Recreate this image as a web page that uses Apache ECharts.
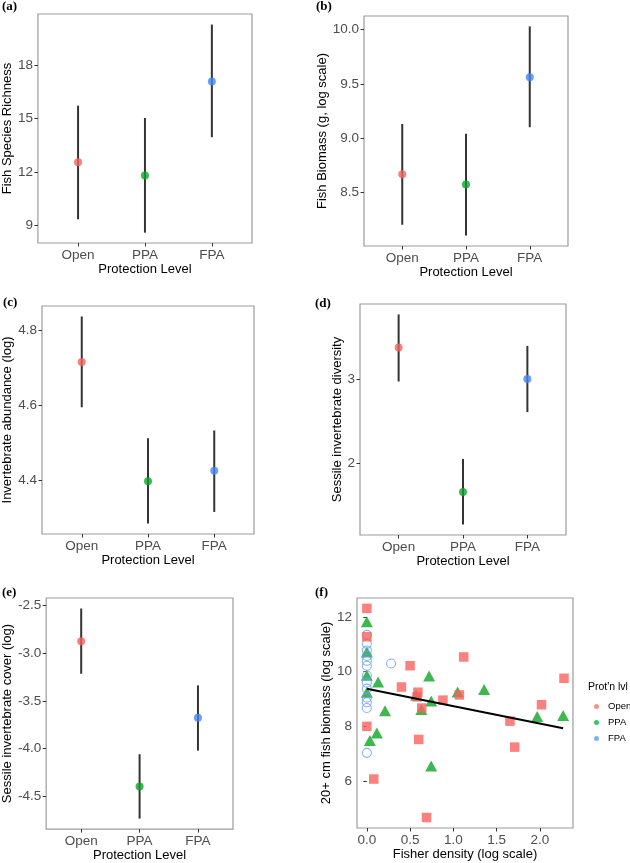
<!DOCTYPE html>
<html>
<head>
<meta charset="utf-8">
<script src="https://cdn.jsdelivr.net/npm/echarts@6/dist/echarts.min.js"></script>
<style>
html,body{margin:0;padding:0;background:#fff;}
#chart{width:630px;height:863px;}
</style>
</head>
<body>
<div id="chart"></div>
<script>
// ---------- data ----------
const categories = ['Open', 'PPA', 'FPA'];

const richnessMean = [12.55, 11.80, 17.08];
const richnessLo   = [9.35, 8.60, 13.95];
const richnessHi   = [15.72, 15.03, 20.27];

const biomassMean = [8.665, 8.572, 9.560];
const biomassLo   = [8.200, 8.100, 9.100];
const biomassHi   = [9.130, 9.040, 10.030];

const abundanceMean = [4.716, 4.397, 4.425];
const abundanceLo   = [4.595, 4.284, 4.315];
const abundanceHi   = [4.838, 4.512, 4.533];

const diversityMean = [3.373, 1.658, 3.000];
const diversityLo   = [2.970, 1.273, 2.607];
const diversityHi   = [3.766, 2.050, 3.393];

const coverMean = [-2.875, -4.396, -3.677];
const coverLo   = [-3.215, -4.732, -4.020];
const coverHi   = [-2.532, -4.058, -3.337];

const richnessTicks  = [9, 12, 15, 18];
const biomassTicks   = [8.5, 9.0, 9.5, 10.0];
const abundanceTicks = [4.4, 4.6, 4.8];
const diversityTicks = [2, 3];
const coverTicks     = [-4.5, -4.0, -3.5, -3.0, -2.5];

// panel f scatter: fisher density (x) vs 20+ cm fish biomass (y)
const openX = [0, 0, 0, 0.08, 0.50, 0.40, 0.59, 0.58, 0.635, 0.60, 0.69, 0.88, 1.12, 1.07, 1.655, 1.71, 2.02, 2.28];
const openY = [12.32, 11.28, 8.00, 6.07, 10.22, 9.44, 9.25, 9.08, 8.67, 7.52, 4.66, 8.96, 10.54, 9.15, 8.19, 7.24, 8.79, 9.76];
const ppaX = [0, 0, 0, 0, 0.13, 0.21, 0.116, 0.035, 0.57, 0.63, 0.72, 0.744, 0.744, 1.05, 1.356, 1.97, 2.27];
const ppaY = [11.83, 10.72, 9.87, 9.25, 9.62, 8.57, 7.76, 7.48, 9.14, 8.62, 9.84, 8.93, 6.55, 9.26, 9.35, 8.36, 8.40];
const fpaX = [0, 0, 0, 0, 0, 0, 0, 0, 0, 0, 0, 0, 0, 0.28];
const fpaY = [11.35, 11.02, 10.78, 10.58, 10.40, 10.22, 9.86, 9.60, 9.38, 9.05, 8.88, 8.67, 7.03, 10.30];
const fitX = [0, 2.27];
const fitY = [9.38, 7.93];
const fisherTicks = [0.0, 0.5, 1.0, 1.5, 2.0];
const bigFishTicks = [6, 8, 10, 12];

// ---------- styling ----------
const FONT = 'Liberation Sans';
const pointColors = ['#F6625C', '#0DA52B', '#4686F4'];
const LABEL_COLOR = '#4D4D4D';
const TICK_FS = 13.5;
const NAME_FS = 13;

const panels = [
  {tag:'(a)', tagPos:[2, 7], grid:{left:36, top:14, width:216, height:229}, mean:richnessMean, lo:richnessLo, hi:richnessHi, min:8.02, max:20.86, ticks:richnessTicks, dec:0, name:'Fish Species Richness', yGap:22, xGap:18},
  {tag:'(b)', tagPos:[316, 7], grid:{left:364, top:16, width:204, height:230}, mean:biomassMean, lo:biomassLo, hi:biomassHi, min:8.004, max:10.126, ticks:biomassTicks, dec:1, name:'Fish Biomass (g, log scale)', yGap:34, xGap:18},
  {tag:'(c)', tagPos:[3, 303], grid:{left:42, top:306, width:212, height:228}, mean:abundanceMean, lo:abundanceLo, hi:abundanceHi, min:4.256, max:4.866, ticks:abundanceTicks, dec:1, name:'Invertebrate abundance (log)', yGap:26, xGap:19},
  {tag:'(d)', tagPos:[315, 304], grid:{left:360, top:304, width:206, height:231}, mean:diversityMean, lo:diversityLo, hi:diversityHi, min:1.148, max:3.89, ticks:diversityTicks, dec:0, name:'Sessile invertebrate diversity', yGap:14.5, xGap:18},
  {tag:'(e)', tagPos:[2, 593], grid:{left:43, top:598, width:190, height:233}, mean:coverMean, lo:coverLo, hi:coverHi, min:-4.842, max:-2.422, ticks:coverTicks, dec:1, name:'Sessile invertebrate cover (log)', yGap:27, xGap:15}
];

const grids = [], xAxes = [], yAxes = [], series = [], graphics = [];

function yAxisDef(gi, min, max, ticks, dec, name, gap) {
  return {
    type:'value', gridIndex:gi, min:min, max:max,
    splitLine:{show:false},
    axisLine:{show:false},
    axisTick:{show:true, customValues:ticks, length:3.5, lineStyle:{color:'#333', width:1}},
    axisLabel:{show:true, customValues:ticks, margin:5, color:LABEL_COLOR, fontFamily:FONT, fontSize:TICK_FS,
      formatter:(v)=>Number(v).toFixed(dec)},
    name:name, nameLocation:'middle', nameGap:gap, nameRotate:90,
    nameTextStyle:{fontFamily:FONT, fontSize:NAME_FS, color:'#000'}
  };
}

panels.forEach((p, i) => {
  grids.push(Object.assign({show:true, borderColor:'#9C9C9C', borderWidth:1.2, backgroundColor:'#fff', containLabel:false}, p.grid));
  xAxes.push({
    type:'value', gridIndex:i, min:0.4, max:3.6,
    splitLine:{show:false},
    axisLine:{show:false, onZero:false},
    axisTick:{show:true, customValues:[1,2,3], length:3.5, lineStyle:{color:'#333', width:1}},
    axisLabel:{show:true, customValues:[1,2,3], margin:5, color:LABEL_COLOR, fontFamily:FONT, fontSize:TICK_FS,
      formatter:(v)=>categories[Math.round(v)-1] || ''},
    name:'Protection Level', nameLocation:'middle', nameGap:p.xGap,
    nameTextStyle:{fontFamily:FONT, fontSize:NAME_FS, color:'#000'}
  });
  yAxes.push(yAxisDef(i, p.min, p.max, p.ticks, p.dec, p.name, p.yGap));
  series.push({
    type:'custom', xAxisIndex:i, yAxisIndex:i,
    data: categories.map((c, k) => [k + 1, p.lo[k], p.hi[k]]),
    encode:{x:0, y:[1,2]},
    renderItem:(params, api) => {
      const a = api.coord([api.value(0), api.value(1)]);
      const b = api.coord([api.value(0), api.value(2)]);
      return {type:'line', shape:{x1:a[0], y1:a[1], x2:b[0], y2:b[1]}, style:{stroke:'#333', lineWidth:2}};
    },
    silent:true, z:2
  });
  series.push({
    type:'scatter', xAxisIndex:i, yAxisIndex:i, symbol:'circle', symbolSize:8,
    data: categories.map((c, k) => ({value:[k + 1, p.mean[k]], itemStyle:{color:pointColors[k]}})),
    silent:true, z:3
  });
  graphics.push({type:'text', left:p.tagPos[0], top:p.tagPos[1] - 7,
    style:{text:p.tag, font:'bold 13px "Liberation Serif"', fill:'#000'}});
});

// panel f
const fi = panels.length;
grids.push({show:true, borderColor:'#9C9C9C', borderWidth:1.2, backgroundColor:'#fff', left:357, top:598, width:216, height:230});
xAxes.push({
  type:'value', gridIndex:fi, min:-0.114, max:2.384,
  splitLine:{show:false},
  axisLine:{show:false, onZero:false},
  axisTick:{show:true, customValues:fisherTicks, length:3.5, lineStyle:{color:'#333', width:1}},
  axisLabel:{show:true, customValues:fisherTicks, margin:5, color:LABEL_COLOR, fontFamily:FONT, fontSize:TICK_FS,
    formatter:(v)=>Number(v).toFixed(1)},
  name:'Fisher density (log scale)', nameLocation:'middle', nameGap:19,
  nameTextStyle:{fontFamily:FONT, fontSize:NAME_FS, color:'#000'}
});
yAxes.push(yAxisDef(fi, 4.277, 12.70, bigFishTicks, 0, '20+ cm fish biomass (log scale)', 22));

series.push({
  name:'PPA', type:'scatter', xAxisIndex:fi, yAxisIndex:fi, symbol:'triangle', symbolSize:[12, 11],
  itemStyle:{color:'#0FA524'}, data: ppaX.map((x, k) => [x, ppaY[k]]), z:3, silent:true
});
series.push({
  name:'FPA', type:'scatter', xAxisIndex:fi, yAxisIndex:fi, symbol:'circle', symbolSize:9,
  itemStyle:{color:'rgba(0,0,0,0)', borderColor:'#6A9CF8', borderWidth:1.1},
  data: fpaX.map((x, k) => [x, fpaY[k]]), z:3, silent:true
});
series.push({
  name:'Open', type:'scatter', xAxisIndex:fi, yAxisIndex:fi, symbol:'rect', symbolSize:9.5,
  itemStyle:{color:'#F9625D'}, data: openX.map((x, k) => [x, openY[k]]), z:3, silent:true
});
series.push({
  type:'line', xAxisIndex:fi, yAxisIndex:fi, symbol:'none',
  lineStyle:{color:'#000', width:2}, data: fitX.map((x, k) => [x, fitY[k]]), z:4, silent:true
});

graphics.push({type:'text', left:315, top:586,
  style:{text:'(f)', font:'bold 13px "Liberation Serif"', fill:'#000'}});
graphics.push({type:'text', left:588, top:682,
  style:{text:"Prot'n lvl", font:'10.5px "Liberation Sans"', fill:'#000'}});

const option = {
  animation:false,
  backgroundColor:'#fff',
  grid:grids, xAxis:xAxes, yAxis:yAxes, series:series, graphic:graphics,
  legend:{
    orient:'vertical', left:594, top:701, itemWidth:5, itemHeight:5, itemGap:5,
    padding:0,
    textStyle:{fontFamily:FONT, fontSize:9.5, lineHeight:11, color:'#000', padding:[0,0,0,4]},
    selectedMode:false,
    data:[
      {name:'Open', icon:'circle', itemStyle:{color:'#F8766D', borderWidth:0}},
      {name:'PPA', icon:'circle', itemStyle:{color:'#00BA38', borderWidth:0}},
      {name:'FPA', icon:'circle', itemStyle:{color:'#619CFF', borderWidth:0}}
    ]
  }
};

const chart = echarts.init(document.getElementById('chart'), null, {renderer:'canvas'});
chart.setOption(option);
</script>
</body>
</html>
